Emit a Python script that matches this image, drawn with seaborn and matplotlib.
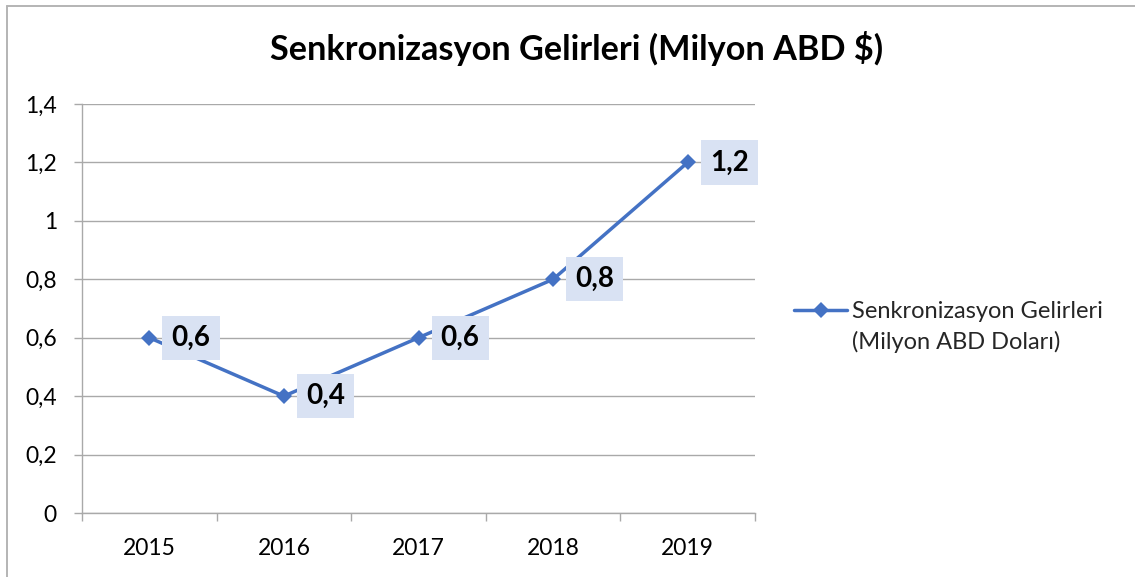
import matplotlib
matplotlib.use("Agg")
import matplotlib.pyplot as plt
from matplotlib.lines import Line2D
from matplotlib.ticker import FixedLocator, FuncFormatter
import seaborn as sns
import pandas as pd

# ---- data ----
years = ["2015", "2016", "2017", "2018", "2019"]
revenue = [0.6, 0.4, 0.6, 0.8, 1.2]
yticks = [0, 0.2, 0.4, 0.6, 0.8, 1.0, 1.2, 1.4]
title = "Senkronizasyon Gelirleri (Milyon ABD $)"
legend_line1 = "Senkronizasyon Gelirleri"
legend_line2 = "(Milyon ABD Doları)"

sns.set_theme(style="white")
plt.rcParams["font.family"] = ["Lato", "DejaVu Sans"]

LINE = "#4472C4"
GRID = "#A9A9A9"
BOX = "#D9E2F3"

def tr(v):
    s = f"{v:.1f}".rstrip("0").rstrip(".")
    return s.replace(".", ",")

df = pd.DataFrame({"x": range(len(years)), "y": revenue})

fig = plt.figure(figsize=(11.35, 5.77), dpi=100)
ax = fig.add_axes([82 / 1135, 1 - 513 / 577, (755 - 82) / 1135, (513 - 104) / 577])

sns.lineplot(data=df, x="x", y="y", ax=ax, color=LINE, linewidth=2.5,
             marker="D", markersize=8.5, markeredgewidth=0, zorder=3,
             legend=False)

ax.set_xlim(-0.5, len(years) - 0.5)
ax.set_ylim(0, 1.4)
ax.set_xlabel("")
ax.set_ylabel("")

ax.yaxis.set_major_locator(FixedLocator(yticks))
ax.yaxis.set_major_formatter(FuncFormatter(lambda v, p: tr(v)))
ax.grid(axis="y", color=GRID, linewidth=1.0)
ax.grid(axis="x", visible=False)

ax.set_xticks(range(len(years)))
ax.set_xticklabels(years)
ax.set_xticks([i - 0.5 for i in range(len(years) + 1)], minor=True)

ax.tick_params(axis="x", which="major", length=0, pad=18, labelsize=16.5,
               labelcolor="black")
ax.tick_params(axis="x", which="minor", length=6, width=1.0, color=GRID,
               direction="out", bottom=True)
ax.tick_params(axis="y", which="major", length=6, width=1.0, color=GRID,
               direction="out", left=True, pad=12, labelsize=16.5,
               labelcolor="black")

for side in ["top", "right"]:
    ax.spines[side].set_visible(False)
for side in ["left", "bottom"]:
    ax.spines[side].set_color(GRID)
    ax.spines[side].set_linewidth(1.0)

for i, v in enumerate(revenue):
    ax.annotate(tr(v), xy=(i, v), xytext=(16, 0), textcoords="offset points",
                ha="left", va="center", fontsize=20, fontweight="bold",
                color="black", zorder=5,
                bbox=dict(boxstyle="square,pad=0.33", fc=BOX, ec="none"))

fig.text(0.508, 1 - 60 / 577, title, ha="center", va="baseline",
         fontsize=24.7, fontweight="bold", color="black")

handles = [Line2D([], [], color=LINE, linewidth=2.5, marker="D",
                  markersize=8.5, markeredgewidth=0),
           Line2D([], [], color="none")]
fig.legend(handles, [legend_line1, legend_line2], loc="upper left",
           bbox_to_anchor=(794 / 1135, 1 - 301 / 577), frameon=False,
           fontsize=17, handlelength=2.25, handletextpad=0.22,
           labelspacing=0.38, borderaxespad=0, borderpad=0)

# chart-area border (left and top edges visible)
fig.add_artist(Line2D([6.5 / 1135, 6.5 / 1135], [0, 1 - 5.5 / 577],
                      transform=fig.transFigure, color="#B4B4B4", linewidth=1.4))
fig.add_artist(Line2D([6.5 / 1135, 1], [1 - 5.5 / 577, 1 - 5.5 / 577],
                      transform=fig.transFigure, color="#B4B4B4", linewidth=1.4))

fig.savefig("out.png", dpi=100)
